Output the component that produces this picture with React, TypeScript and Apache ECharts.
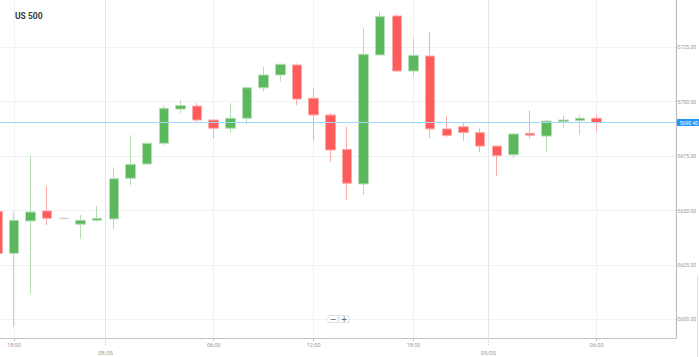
import React, { useEffect, useRef } from "react";
import * as echarts from "echarts";

const titleText = "US 500";
// open, close, low, high per hourly candle
const opens = [5649.6, 5630.3, 5645.2, 5649.8, 5646.4, 5643.7, 5645.5, 5646.1, 5664.8, 5671.4, 5680.9, 5696.6, 5698.0, 5691.6, 5687.8, 5692.4, 5706.4, 5712.3, 5716.9, 5701.6, 5693.9, 5678.1, 5662.2, 5721.5, 5739.4, 5714.1, 5721.0, 5687.5, 5688.5, 5685.8, 5679.6, 5675.6, 5685.5, 5684.2, 5690.8, 5691.3, 5692.4];
const closes = [5630.3, 5645.5, 5649.3, 5646.4, 5646.4, 5645.5, 5646.4, 5664.6, 5671.2, 5680.9, 5697.0, 5698.2, 5691.6, 5687.8, 5692.4, 5706.4, 5712.3, 5717.2, 5701.2, 5693.9, 5677.8, 5662.5, 5721.8, 5739.1, 5714.1, 5721.3, 5687.5, 5684.4, 5685.8, 5679.6, 5675.2, 5685.2, 5684.6, 5691.1, 5691.6, 5692.4, 5690.4];
const lows = [5630.3, 5596.6, 5611.6, 5643.3, 5646.2, 5637.2, 5644.9, 5641.4, 5661.7, 5671.0, 5680.1, 5694.7, 5690.3, 5683.2, 5685.8, 5689.8, 5704.6, 5709.2, 5698.5, 5682.1, 5672.4, 5655.1, 5657.1, 5721.0, 5713.8, 5711.8, 5683.2, 5683.6, 5682.1, 5676.7, 5665.9, 5674.0, 5683.2, 5677.0, 5688.1, 5684.7, 5686.2];
const highs = [5649.6, 5649.4, 5675.2, 5661.3, 5646.6, 5647.9, 5652.1, 5669.4, 5684.6, 5681.3, 5698.2, 5700.8, 5699.5, 5691.8, 5699.3, 5706.9, 5716.1, 5717.4, 5717.6, 5706.2, 5694.8, 5688.5, 5733.7, 5741.4, 5740.3, 5729.1, 5731.9, 5693.6, 5690.3, 5687.8, 5679.8, 5685.6, 5695.9, 5691.9, 5693.6, 5693.9, 5693.9];
const currentPrice = 5690.4;

const hourTickPos = [1, 13, 19, 25, 36];
const hourTickLabels = ["18:00", "06:00", "12:00", "18:00", "06:00"];
const dateTickPos = [6.5, 29.5];
const dateTickLabels = ["08/05", "09/05"];
const priceTicks = [5600, 5625, 5650, 5675, 5700, 5725];
const zoomButtons = ["\u2212", "+"];

const X_MIN = 0.162;
const X_MAX = 40.756;
const Y_MIN = 5591.41;
const Y_MAX = 5746.74;

const UP = "#5cb85c";
const UP_BORDER = "#b5deb5";
const DOWN = "#ff5b5b";
const DOWN_BORDER = "#fbaaaa";
const FONT = "Roboto, 'DejaVu Sans', sans-serif";

function lookup(positions: number[], labels: string[], v: number) {
  for (let i = 0; i < positions.length; i++) {
    if (Math.abs(positions[i] - v) < 1e-6) return labels[i];
  }
  return "";
}

export default function App() {
  const ref = useRef<HTMLDivElement>(null);
  useEffect(() => {
    if (!ref.current) return;
    const chart = echarts.init(ref.current, undefined, { renderer: "svg" });
    const data = opens.map((o, i) => {
      const item: any = { value: [i, o, closes[i], lows[i], highs[i]] };
      if (o === closes[i]) {
        item.itemStyle = { color: "#cccccc", borderColor: "#cccccc", borderColor0: "#cccccc" };
      }
      return item;
    });
    const buttonGraphics: any[] = [];
    zoomButtons.forEach((t, k) => {
      buttonGraphics.push({
        type: "rect",
        x: 328 + k * 11,
        y: 315.5,
        shape: { x: 0, y: 0, width: 10, height: 7 },
        style: { fill: "#fff", stroke: "#e2e2e2", lineWidth: 1 },
        z: 100,
      });
      buttonGraphics.push({
        type: "text",
        x: 333 + k * 11,
        y: 319,
        style: {
          text: t,
          fontSize: 8,
          fill: "#555",
          align: "center",
          verticalAlign: "middle",
          fontFamily: "'DejaVu Sans', sans-serif",
        },
        z: 101,
      });
    });
    chart.setOption({
      animation: false,
      title: {
        text: titleText,
        left: 10,
        top: 6,
        textStyle: { fontSize: 8.5, fontWeight: "bold", color: "#3a3a3a", fontFamily: FONT },
      },
      grid: { left: 0, right: 22.3, top: 0, bottom: 19, containLabel: false },
      xAxis: [
        {
          type: "value",
          min: X_MIN,
          max: X_MAX,
          position: "bottom",
          axisLine: { show: true, onZero: false, lineStyle: { color: "#c4c4c4", width: 1.2 } },
          axisTick: { show: true, length: 3, customValues: hourTickPos, lineStyle: { color: "#c4c4c4" } },
          axisLabel: {
            show: true,
            customValues: hourTickPos,
            formatter: (v: number) => lookup(hourTickPos, hourTickLabels, v),
            fontSize: 5.5,
            color: "#999",
            margin: 4,
            fontFamily: FONT,
          },
          splitLine: { show: true, lineStyle: { color: "#f1f1f1", width: 1 } },
        },
        {
          type: "value",
          min: X_MIN,
          max: X_MAX,
          position: "bottom",
          axisLine: { show: false },
          axisTick: { show: true, length: 8, customValues: dateTickPos, lineStyle: { color: "#c8c8c8", type: "dotted" } },
          axisLabel: {
            show: true,
            customValues: dateTickPos,
            formatter: (v: number) => lookup(dateTickPos, dateTickLabels, v),
            fontSize: 5.5,
            color: "#999",
            margin: 12,
            fontFamily: FONT,
          },
          splitLine: { show: true, lineStyle: { color: "#e6e6e6", width: 1 } },
        },
      ],
      yAxis: {
        type: "value",
        position: "right",
        min: Y_MIN,
        max: Y_MAX,
        scale: true,
        axisLine: { show: true, lineStyle: { color: "#bdbdbd", width: 1.2 } },
        axisTick: { show: true, length: 2, customValues: priceTicks, lineStyle: { color: "#bdbdbd" } },
        axisLabel: {
          show: true,
          customValues: priceTicks,
          formatter: (v: number) => v.toFixed(2),
          fontSize: 5,
          color: "#999",
          margin: 2,
          fontFamily: FONT,
        },
        splitLine: { show: true, lineStyle: { color: "#f1f1f1", width: 1 } },
      },
      series: [
        {
          type: "candlestick",
          xAxisIndex: 0,
          yAxisIndex: 0,
          clip: false,
          barWidth: 10,
          data,
          itemStyle: {
            color: UP,
            color0: DOWN,
            borderColor: UP_BORDER,
            borderColor0: DOWN_BORDER,
            borderColorDoji: "#cccccc",
            borderWidth: 1,
          },
          markLine: {
            silent: true,
            symbol: ["none", "none"],
            lineStyle: { color: "#a3d9f8", width: 1, type: "solid" },
            label: {
              show: true,
              position: "end",
              formatter: () => currentPrice.toFixed(2),
              backgroundColor: "#2196f3",
              color: "#fff",
              fontSize: 5,
              padding: [1, 3],
              distance: 1,
              borderRadius: 1,
              fontFamily: FONT,
            },
            data: [{ yAxis: currentPrice }],
          },
        },
      ],
      graphic: [
        ...buttonGraphics,
        {
          type: "line",
          shape: { x1: 697.5, y1: 276, x2: 697.5, y2: 357 },
          style: { stroke: "#dddddd", lineWidth: 1 },
        },
      ],
    });
    return () => chart.dispose();
  }, []);
  return (
    <div
      ref={ref}
      style={{ position: "fixed", left: 0, top: 0, width: 699, height: 357, background: "#fff" }}
    />
  );
}
